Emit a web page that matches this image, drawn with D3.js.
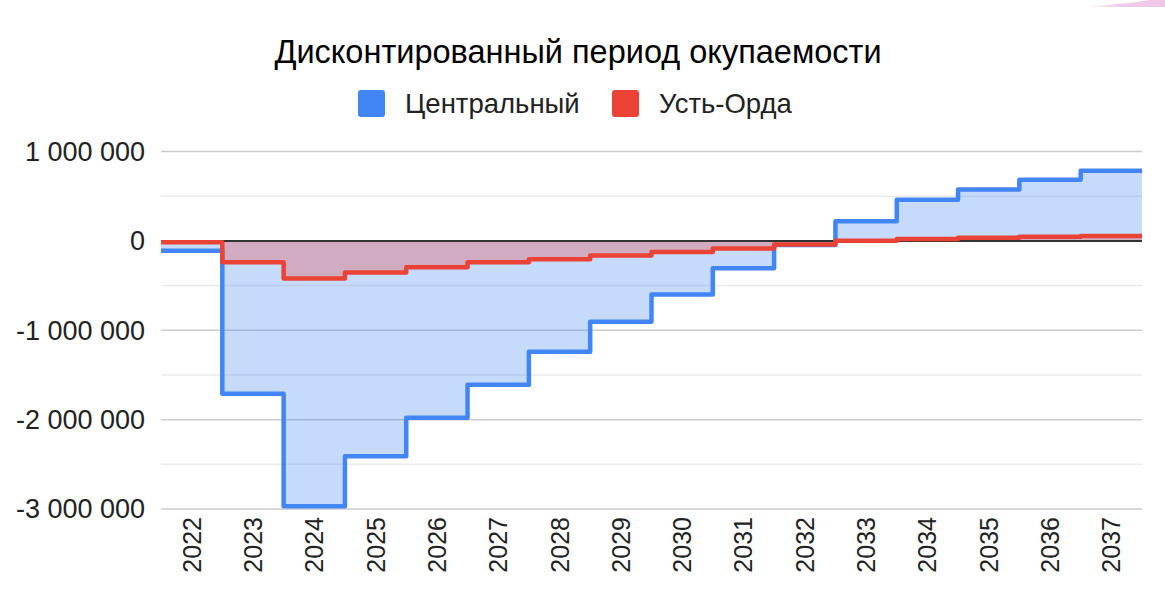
<!DOCTYPE html>
<html>
<head>
<meta charset="utf-8">
<script src="https://cdn.jsdelivr.net/npm/d3@7"></script>
<style>
body { margin: 0; background: #fff; }
svg { display: block; font-family: "Liberation Sans", Arial, sans-serif; }
</style>
</head>
<body>
<div id="chart-area"></div>
<script>
const years = ['2022','2023','2024','2025','2026','2027','2028','2029','2030','2031','2032','2033','2034','2035','2036','2037']
const central = [-110000,-1710000,-2970000,-2410000,-1980000,-1610000,-1240000,-905000,-600000,-305000,-45000,220000,460000,575000,685000,785000]
const ustOrda = [-15000,-240000,-420000,-355000,-295000,-240000,-205000,-165000,-125000,-85000,-40000,2000,22000,35000,45000,55000]
const seriesNames = ['Центральный','Усть-Орда']
const yTicks = [1000000,0,-1000000,-2000000,-3000000]
const minorTicks = [500000,-500000,-1500000,-2500000]

const WIDTH = 1165
const HEIGHT = 612
const PLOT = {LEFT:161, RIGHT:1142, TOP:151.5, BOTTOM:509}
const COLORS = ['#4285f4','#ea4335']

const svg = d3.select('#chart-area')
.append('svg')
.attr('width',WIDTH)
.attr('height',HEIGHT)

// pink corner of the page behind the chart
const grad = svg.append('defs').append('linearGradient')
.attr('id','corner')
.attr('x1','0').attr('x2','1')
grad.append('stop').attr('offset','0').attr('stop-color','#f3d9ee').attr('stop-opacity',0)
grad.append('stop').attr('offset','0.45').attr('stop-color','#f0cce9')
grad.append('stop').attr('offset','1').attr('stop-color','#eec6e6')
svg.append('path')
.attr('d','M1080,7 L1130,3 L1150,0 L1165,0 L1165,7 Z')
.attr('fill','url(#corner)')

const x = d3.scaleBand()
.domain(years)
.range([PLOT.LEFT,PLOT.RIGHT])

const y = d3.scaleLinear()
.domain([-3000000,1000000])
.range([PLOT.BOTTOM,PLOT.TOP])

// grid
svg.append('g')
.selectAll('line')
.data(minorTicks)
.enter().append('line')
.attr('x1',PLOT.LEFT).attr('x2',PLOT.RIGHT)
.attr('y1',d=>y(d)).attr('y2',d=>y(d))
.attr('stroke','#ebebeb')
.attr('stroke-width',1.5)

svg.append('g')
.selectAll('line')
.data(yTicks.filter(d=>d!==0))
.enter().append('line')
.attr('x1',PLOT.LEFT).attr('x2',PLOT.RIGHT)
.attr('y1',d=>y(d)).attr('y2',d=>y(d))
.attr('stroke','#cccccc')
.attr('stroke-width',1.5)

// y labels
svg.append('g')
.selectAll('text')
.data(yTicks)
.enter().append('text')
.attr('x',145)
.attr('y',d=>y(d))
.attr('dy','0.35em')
.attr('text-anchor','end')
.attr('font-size',27)
.attr('fill','#222')
.text(d=>d3.format(',')(d).replace(/,/g,' ').replace('−','-'))

// x labels
svg.append('g')
.selectAll('text')
.data(years)
.enter().append('text')
.attr('transform',d=>`translate(${x(d)+x.bandwidth()/2},517) rotate(-90)`)
.attr('dy','0.36em')
.attr('text-anchor','end')
.attr('font-size',25)
.attr('fill','#222')
.text(d=>d)

function stepPoints(values) {
	const pts = values.map((v,i)=>[x(years[i]),v])
	pts.push([x(years[years.length-1])+x.bandwidth(),values[values.length-1]])
	return pts
}

const area = d3.area()
.curve(d3.curveStepAfter)
.x(d=>d[0])
.y0(y(0))
.y1(d=>y(d[1]))

const line = d3.line()
.curve(d3.curveStepAfter)
.x(d=>d[0])
.y(d=>y(d[1]))

const allSeries = [central,ustOrda]

allSeries.forEach((s,i)=>{
	svg.append('path')
	.attr('d',area(stepPoints(s)))
	.attr('fill',COLORS[i])
	.attr('fill-opacity',0.3)
})

// zero baseline
svg.append('line')
.attr('x1',PLOT.LEFT).attr('x2',PLOT.RIGHT)
.attr('y1',y(0)).attr('y2',y(0))
.attr('stroke','#333')
.attr('stroke-width',2)

allSeries.forEach((s,i)=>{
	svg.append('path')
	.attr('d',line(stepPoints(s)))
	.attr('fill','none')
	.attr('stroke',COLORS[i])
	.attr('stroke-width',4.5)
	.attr('stroke-linejoin','round')
	.attr('stroke-linecap','butt')
})

// title
svg.append('text')
.attr('x',578)
.attr('y',63)
.attr('text-anchor','middle')
.attr('font-size',32.5)
.attr('fill','#000')
.text('Дисконтированный период окупаемости')

// legend
const legendX = [358,612]
seriesNames.forEach((name,i)=>{
	const row = svg.append('g')
	.attr('transform',`translate(${legendX[i]},90)`)
	row.append('rect')
	.attr('width',27)
	.attr('height',27)
	.attr('rx',3)
	.attr('fill',COLORS[i])
	row.append('text')
	.attr('x',47)
	.attr('y',13.5)
	.attr('dy','0.35em')
	.attr('font-size',27.5)
	.attr('fill','#222')
	.text(name)
})
</script>
</body>
</html>
